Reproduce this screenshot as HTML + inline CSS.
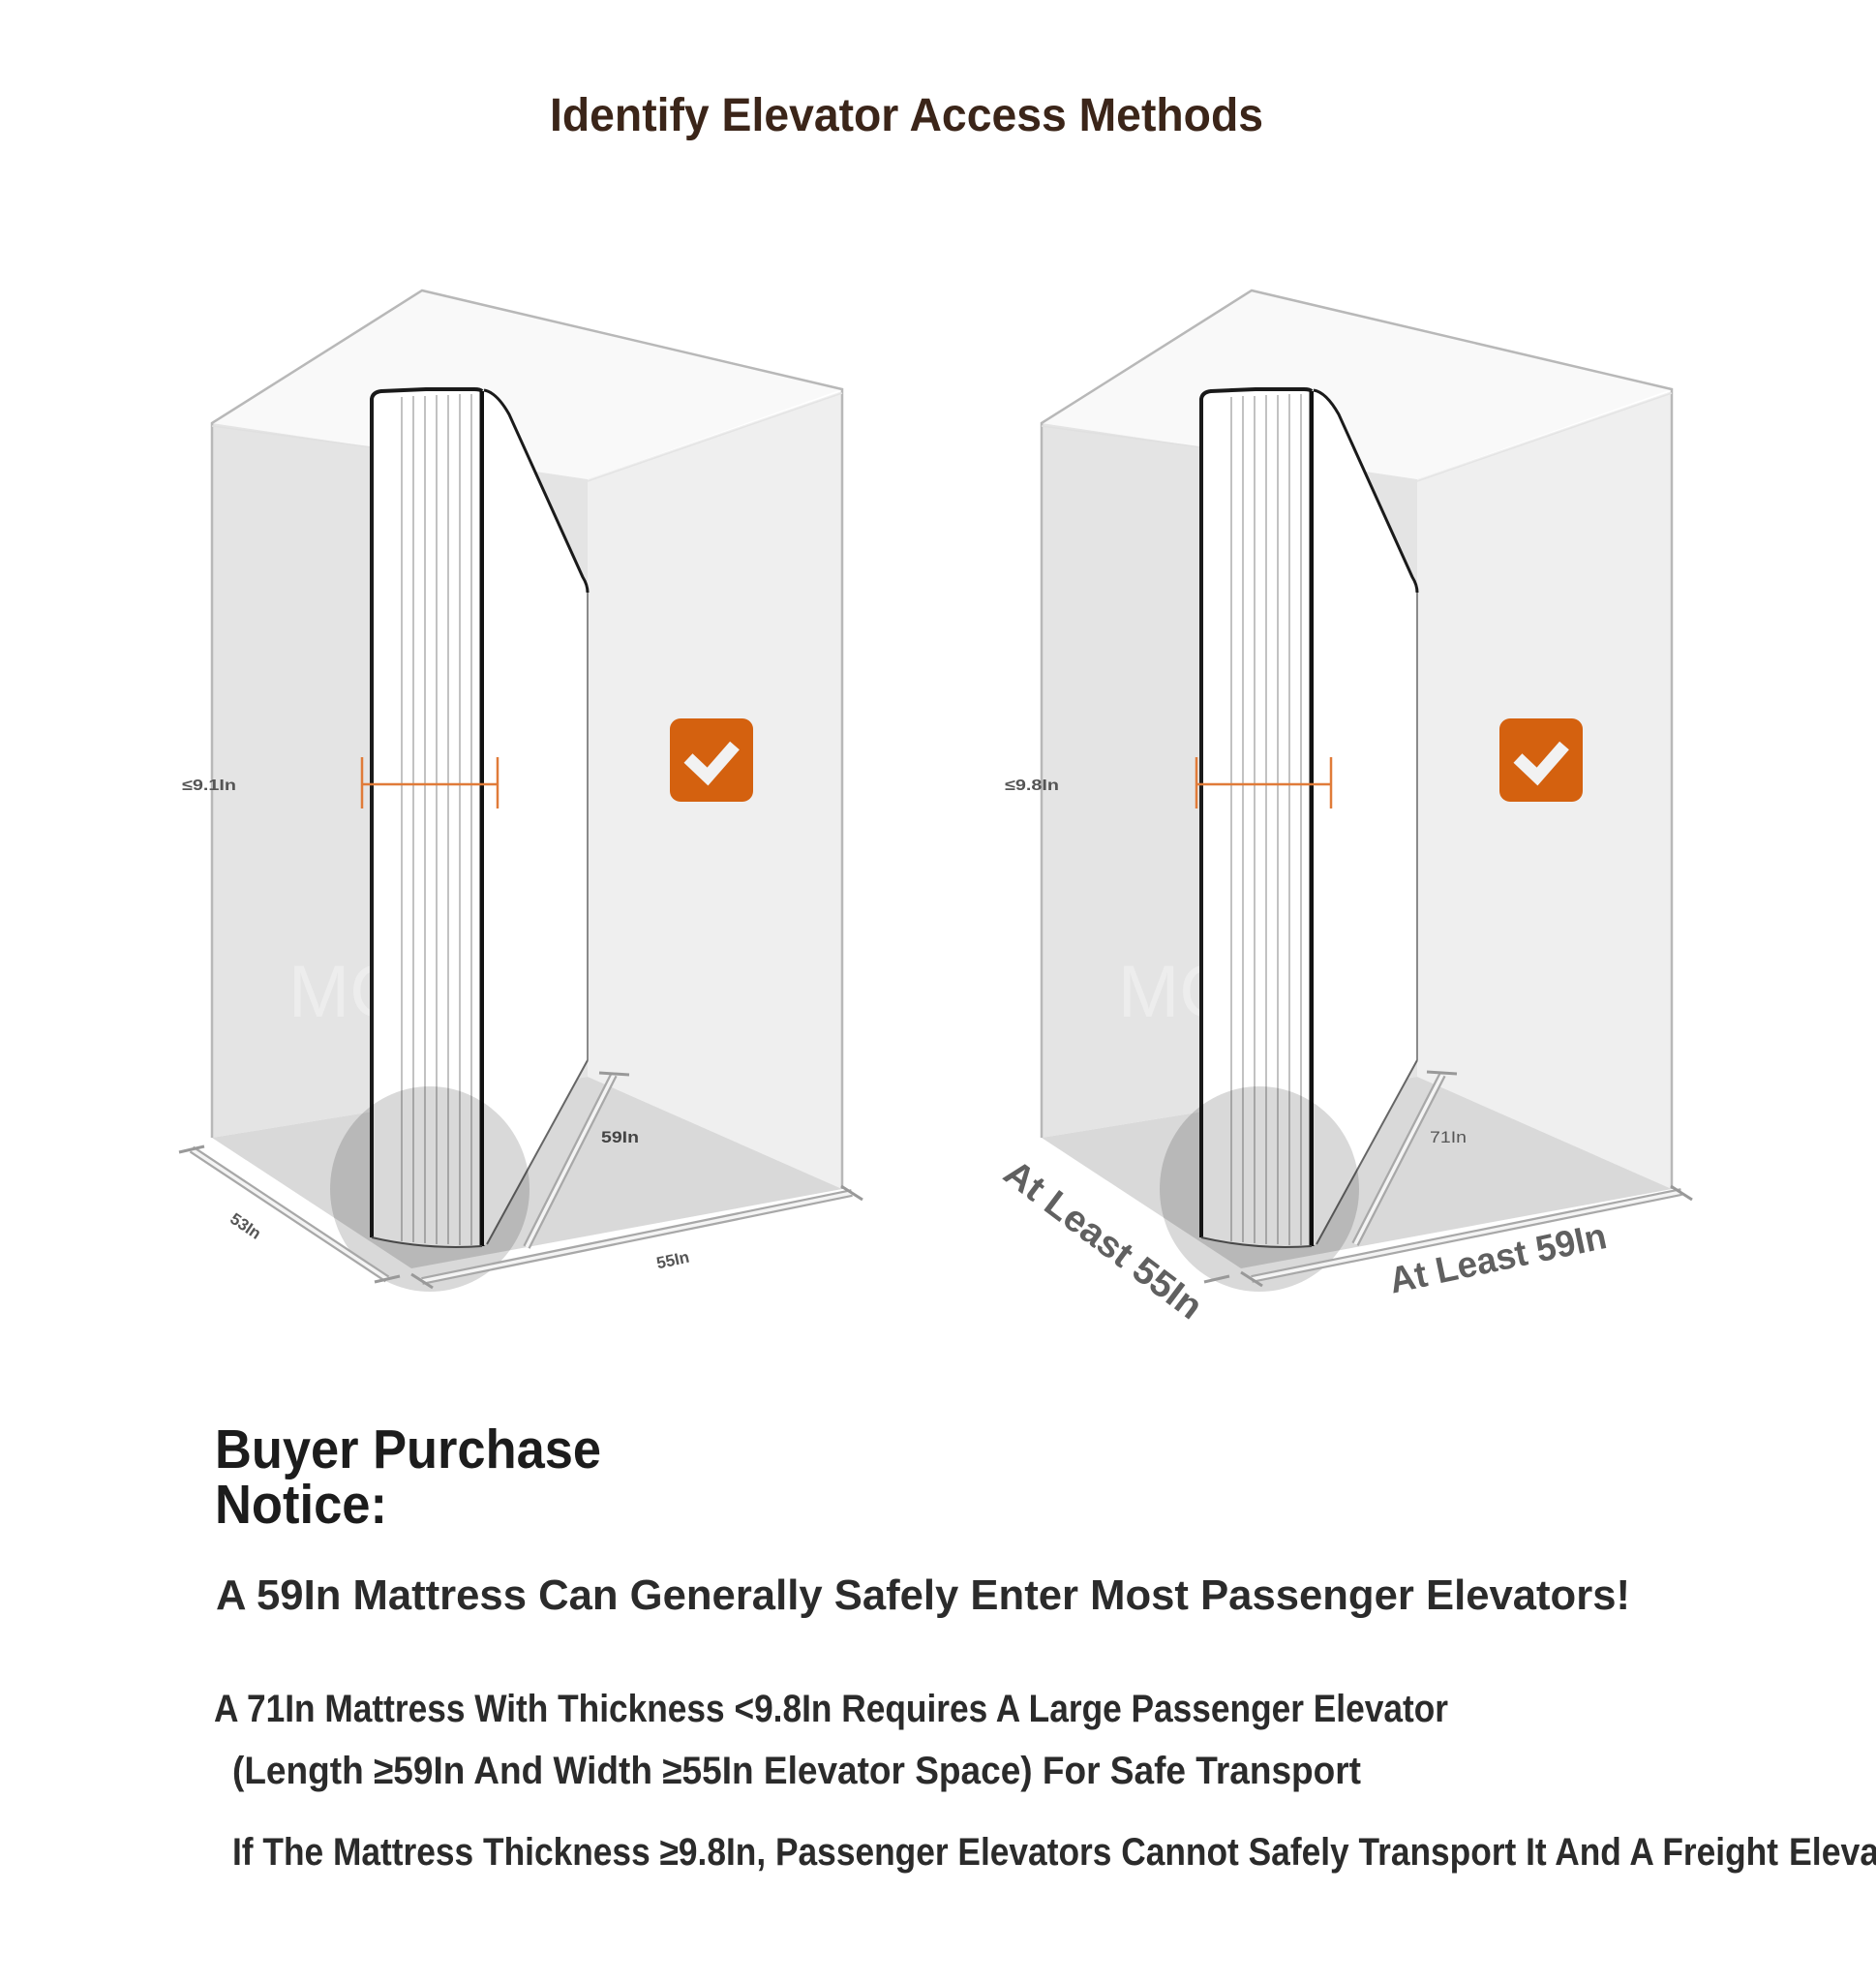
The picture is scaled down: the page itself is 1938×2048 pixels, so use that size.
<!DOCTYPE html>
<html><head><meta charset="utf-8">
<style>
html,body{margin:0;padding:0;background:#fff;}
svg{display:block;}
text{font-family:"Liberation Sans","Noto Sans CJK SC",Arial,sans-serif;font-weight:bold;}
</style></head><body>
<svg width="1938" height="2048" viewBox="0 0 1938 2048" xmlns="http://www.w3.org/2000/svg">
<rect width="1938" height="2048" fill="#ffffff"/>

<text x="568" y="135" font-size="48" fill="#3b2519" textLength="737" lengthAdjust="spacingAndGlyphs">Identify Elevator Access Methods</text>

<defs>
<g id="box">
  <polygon points="436,300 219,437 607,495 870,402" fill="#f9f9f9"/>
  <polygon points="219,437 607,495 607,1112 219,1175" fill="#e4e4e4"/>
  <polygon points="607,495 870,404 870,1228 607,1112" fill="#efefef"/>
  <polygon points="219,1175 607,1112 870,1228 425,1310" fill="#d9d9d9"/>
  <polyline points="219,1175 219,437 436,300 870,402 870,1228" fill="none" stroke="#b8b8b8" stroke-width="2.5"/>
  <path d="M219,440 L384,462" stroke="#e0e0e0" stroke-width="1.5" fill="none"/>
  <path d="M870,406 L607,497" stroke="#e4e4e4" stroke-width="1.5" fill="none"/>
  <text x="298" y="1050" font-size="76" style="font-weight:normal" fill="#ffffff" opacity="0.35">MC慕欣</text>
  <path d="M384,412 Q385,404 394,404 L490,402 Q498,402 498,410 L498,1286 Q440,1290 384,1278 Z" fill="#ffffff"/>
  <g stroke="#9a9a9a" stroke-width="1.2">
    <line x1="415" y1="410" x2="415" y2="1282"/>
    <line x1="427" y1="409" x2="427" y2="1283"/>
    <line x1="439" y1="409" x2="439" y2="1284"/>
    <line x1="451" y1="408" x2="451" y2="1285"/>
    <line x1="463" y1="408" x2="463" y2="1285"/>
    <line x1="475" y1="407" x2="475" y2="1286"/>
    <line x1="487" y1="407" x2="487" y2="1286"/>
  </g>
  <path d="M384,1278 L384,412 Q385,405 394,404 L440,402 L490,402 Q496,402 498,404" fill="none" stroke="#1a1a1a" stroke-width="4"/>
  <line x1="498" y1="404" x2="498" y2="1287" stroke="#111" stroke-width="5"/>
  <path d="M384,1278 Q440,1291 498,1287" fill="none" stroke="#555" stroke-width="2"/>
  <path d="M500,403 Q513,405 526,428 L602,596 Q607,604 607,612 L607,1095 L503,1285 L500,1286 Z" fill="#ffffff"/>
  <path d="M500,403 Q513,405 526,428 L602,596 Q607,604 607,612" fill="none" stroke="#1a1a1a" stroke-width="3"/>
  <line x1="607" y1="612" x2="607" y2="1095" stroke="#8a8a8a" stroke-width="2"/>
  <line x1="607" y1="1095" x2="503" y2="1285" stroke="#666" stroke-width="2"/>
  <ellipse cx="444" cy="1228" rx="103" ry="106" fill="#000" opacity="0.15"/>
  <rect x="692" y="742" width="86" height="86" rx="11" fill="#d4610f"/>
  <polyline points="711,783 731,802 759,770" fill="none" stroke="#f2f2f2" stroke-width="13" stroke-linejoin="miter"/>
</g>
</defs>

<use href="#box"/>
<use href="#box" x="857"/>

<g fill="none" stroke-linecap="butt">
  <g stroke="#a8a8a8" stroke-width="8">
    <line x1="198" y1="1187" x2="400" y2="1321"/>
    <line x1="436" y1="1323" x2="880" y2="1232"/>
    <line x1="634" y1="1110" x2="544" y2="1288"/>
    <line x1="1293" y1="1321" x2="1737" y2="1231"/>
    <line x1="1490" y1="1110" x2="1400" y2="1285"/>
  </g>
  <g stroke="#f4f4f4" stroke-width="3.5">
    <line x1="198" y1="1187" x2="400" y2="1321"/>
    <line x1="436" y1="1323" x2="880" y2="1232"/>
    <line x1="634" y1="1110" x2="544" y2="1288"/>
    <line x1="1293" y1="1321" x2="1737" y2="1231"/>
    <line x1="1490" y1="1110" x2="1400" y2="1285"/>
  </g>
  <g stroke="#999" stroke-width="3">
    <line x1="185" y1="1190" x2="211" y2="1184"/>
    <line x1="387" y1="1324" x2="413" y2="1318"/>
    <line x1="425" y1="1316" x2="447" y2="1330"/>
    <line x1="869" y1="1225" x2="891" y2="1239"/>
    <line x1="619" y1="1108" x2="650" y2="1110"/>
    <line x1="1244" y1="1324" x2="1270" y2="1318"/>
    <line x1="1282" y1="1314" x2="1304" y2="1328"/>
    <line x1="1726" y1="1225" x2="1748" y2="1239"/>
    <line x1="1474" y1="1107" x2="1505" y2="1109"/>
  </g>
</g>

<g stroke="#e07b39" stroke-width="2.5" fill="none">
  <line x1="374" y1="810" x2="514" y2="810"/>
  <line x1="374" y1="782" x2="374" y2="835"/>
  <line x1="514" y1="782" x2="514" y2="835"/>
  <line x1="1236" y1="810" x2="1375" y2="810"/>
  <line x1="1236" y1="782" x2="1236" y2="835"/>
  <line x1="1375" y1="782" x2="1375" y2="835"/>
</g>

<text x="188" y="816" font-size="16" fill="#555" textLength="56" lengthAdjust="spacingAndGlyphs">≤9.1In</text>
<text x="1038" y="816" font-size="16" fill="#555" textLength="56" lengthAdjust="spacingAndGlyphs">≤9.8In</text>
<text transform="translate(254,1266) rotate(34)" text-anchor="middle" dy="6" font-size="17" fill="#555">53In</text>
<text transform="translate(695,1301) rotate(-12)" text-anchor="middle" dy="6" font-size="17" fill="#555">55In</text>
<text x="621" y="1180" font-size="17" fill="#444" textLength="39" lengthAdjust="spacingAndGlyphs">59In</text>
<text x="1477" y="1180" font-size="17" style="font-weight:normal" fill="#555" textLength="38" lengthAdjust="spacingAndGlyphs">71In</text>
<text transform="translate(1140,1280) rotate(37)" text-anchor="middle" dy="13" font-size="38" fill="#606060" textLength="245" lengthAdjust="spacingAndGlyphs">At Least 55In</text>
<text transform="translate(1550,1312) rotate(-12)" text-anchor="middle" font-size="38" fill="#606060" textLength="228" lengthAdjust="spacingAndGlyphs">At Least 59In</text>

<text x="222" y="1516" font-size="57" fill="#1c1c1c" textLength="399" lengthAdjust="spacingAndGlyphs">Buyer Purchase</text>
<text x="222" y="1573" font-size="57" fill="#1c1c1c" textLength="178" lengthAdjust="spacingAndGlyphs">Notice:</text>
<text x="223" y="1662" font-size="44" fill="#2b2b2b" textLength="1461" lengthAdjust="spacingAndGlyphs">A 59In Mattress Can Generally Safely Enter Most Passenger Elevators!</text>
<text x="221" y="1778" font-size="40" fill="#2b2b2b" textLength="1275" lengthAdjust="spacingAndGlyphs">A 71In Mattress With Thickness &lt;9.8In Requires A Large Passenger Elevator</text>
<text x="240" y="1842" font-size="40" fill="#2b2b2b" textLength="1166" lengthAdjust="spacingAndGlyphs">(Length ≥59In And Width ≥55In Elevator Space) For Safe Transport</text>
<text x="240" y="1926" font-size="40" fill="#2b2b2b" textLength="1597" lengthAdjust="spacingAndGlyphs">If The Mattress Thickness ≥9.8In, Passenger Elevators Cannot Safely Transport It And A Freight</text>
<text x="1848" y="1926" font-size="40" fill="#2b2b2b" textLength="345" lengthAdjust="spacingAndGlyphs">Elevator Is Required</text>
</svg>
</body></html>
